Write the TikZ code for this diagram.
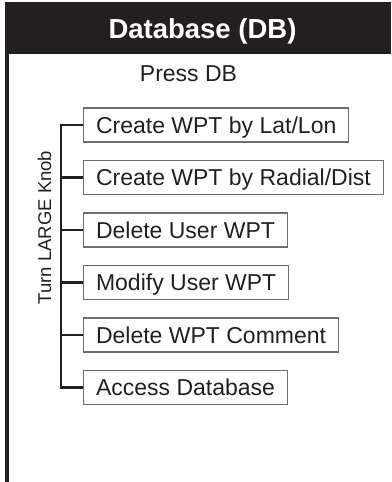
\documentclass[tikz,border=0pt]{standalone}
\usepackage{fontspec}
\setmainfont{Liberation Sans}
\definecolor{ink}{HTML}{231F20}
\definecolor{boxgray}{HTML}{6D6E71}
\begin{document}
\begin{tikzpicture}[x=1pt,y=-1pt,
  menubox/.style={draw=boxgray,line width=1.1pt,anchor=west,inner xsep=12.5pt,inner ysep=0pt,
    minimum height=34pt,text height=16.5pt,text depth=0pt,text=ink,
    font=\fontsize{23}{27}\selectfont},
  link/.style={draw=ink,line width=2.6pt},
  frame/.style={draw=ink,line width=3.5pt}]
\useasboundingbox (0,0) rectangle (391,482);
% header
\fill[ink] (5,1.5) rectangle (391,54);
\node[anchor=base,text=white,font=\bfseries\fontsize{27.5}{32}\selectfont,inner sep=0pt] (h) at (202.5,38) {Database (DB)};
\draw[frame] (7,53) -- (7,482);
% press
\node[anchor=base,text=ink,font=\fontsize{23}{27}\selectfont,inner sep=0pt] (p) at (188.5,81.5) {Press DB};
% boxes
\node[menubox] (b1) at (83,125) {Create WPT by Lat/Lon};
\node[menubox] (b2) at (83,177.5) {Create WPT by Radial/Dist};
\node[menubox] (b3) at (83,230) {Delete User WPT};
\node[menubox] (b4) at (83,282.5) {Modify User WPT};
\node[menubox] (b5) at (83,335) {Delete WPT Comment};
\node[menubox] (b6) at (83,387.5) {Access Database};
% spine
\coordinate (s1) at (60.8,125);
\coordinate (s6) at (60.8,387.5);
\draw[link,line join=miter] (b1.west) -- (s1) -- (s6) -- (b6.west);
\foreach \b in {b2,b3,b4,b5} \draw[link] (\b.west) -- (\b.west -| s1);
% rotated label
\node[rotate=90,text=ink,font=\fontsize{18.5}{22}\selectfont,inner sep=0pt,text height=13.2pt,text depth=0pt] (t) at (44.5,227.5) {Turn LARGE Knob};
\end{tikzpicture}
\end{document}
